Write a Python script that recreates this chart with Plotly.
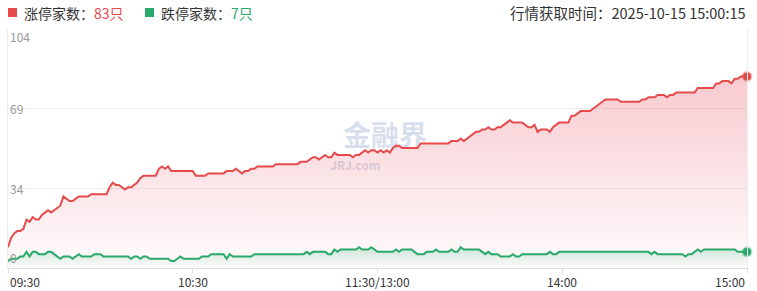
import plotly.graph_objects as go

# ---------------- data ----------------
time_ticks = [0, 60, 120, 180, 240]
time_labels = ["09:30", "10:30", "11:30/13:00", "14:00", "15:00"]
y_ticks = [0, 104 / 3, 208 / 3, 104]
y_labels = ["0", "34", "69", "104"]
quote_time = "2025-10-15 15:00:15"

limit_up = [
    9, 13, 15, 16, 16, 17, 21, 20, 22, 21,
    21, 23, 24, 25, 24, 25, 26, 27, 31, 30,
    29, 29, 30, 31, 31, 31, 31, 32, 32, 32,
    32, 32, 32, 35, 37, 36, 36, 35, 34, 35,
    35, 36, 37, 39, 40, 40, 40, 40, 40, 43,
    44, 43, 44, 42, 42, 42, 42, 42, 42, 42,
    42, 40, 40, 40, 40, 41, 41, 41, 41, 41,
    41, 42, 42, 42, 43, 42, 41, 42, 42, 43,
    43, 44, 44, 44, 44, 44, 44, 45, 45, 45,
    45, 45, 45, 45, 45, 46, 46, 46, 47, 48,
    48, 47, 48, 49, 48, 48, 50, 49, 49, 49,
    49, 49, 48, 49, 49, 50, 51, 50, 51, 51,
    50, 51, 50, 51, 50, 52, 53, 53, 52, 52,
    52, 52, 52, 52, 54, 54, 54, 54, 54, 54,
    54, 54, 54, 54, 55, 55, 55, 56, 55, 56,
    57, 58, 59, 59, 60, 60, 61, 60, 60, 61,
    61, 62, 63, 64, 63, 63, 63, 63, 62, 61,
    61, 62, 59, 60, 60, 60, 59, 61, 62, 63,
    63, 63, 63, 66, 66, 67, 68, 68, 68, 68,
    69, 70, 71, 72, 73, 73, 73, 73, 73, 72,
    72, 72, 72, 72, 72, 72, 73, 73, 74, 74,
    74, 75, 75, 75, 74, 75, 75, 76, 76, 76,
    76, 76, 76, 76, 78, 78, 78, 78, 78, 78,
    80, 80, 81, 81, 81, 80, 82, 82, 83, 83,
    83,
]

limit_down = [
    3, 4, 4, 4, 5, 5, 7, 5, 7, 7,
    6, 6, 6, 7, 7, 6, 5, 4, 5, 5,
    5, 4, 5, 6, 5, 5, 5, 5, 6, 6,
    6, 5, 5, 5, 5, 5, 5, 5, 5, 5,
    4, 5, 5, 4, 5, 5, 4, 4, 4, 4,
    4, 4, 4, 3, 3, 4, 5, 4, 4, 4,
    4, 4, 4, 5, 5, 5, 6, 6, 6, 6,
    6, 4, 6, 5, 5, 5, 5, 5, 5, 5,
    6, 6, 6, 6, 6, 6, 6, 6, 6, 6,
    6, 6, 6, 6, 6, 6, 6, 7, 6, 7,
    7, 7, 7, 7, 6, 6, 8, 7, 8, 8,
    8, 8, 8, 8, 9, 8, 8, 8, 9, 8,
    7, 7, 7, 7, 7, 7, 8, 7, 8, 8,
    8, 8, 7, 6, 6, 6, 7, 7, 7, 8,
    7, 7, 7, 7, 8, 7, 7, 9, 8, 8,
    8, 8, 8, 8, 7, 6, 7, 6, 6, 6,
    5, 5, 5, 5, 6, 5, 5, 6, 6, 6,
    6, 6, 6, 6, 6, 6, 7, 6, 6, 7,
    7, 7, 7, 7, 7, 7, 7, 7, 7, 7,
    7, 7, 7, 7, 7, 7, 7, 7, 7, 7,
    7, 7, 7, 7, 7, 7, 7, 7, 7, 6,
    7, 6, 6, 6, 6, 6, 6, 6, 6, 6,
    5, 6, 6, 7, 8, 7, 8, 8, 8, 8,
    8, 8, 8, 8, 8, 8, 8, 7, 7, 7,
    7,
]

minutes = list(range(len(limit_up)))

# ---------------- style ----------------
RED = "#e64a4a"
GREEN = "#29a96b"
FONT = "Noto Sans CJK SC, Microsoft YaHei, sans-serif"

fig = go.Figure()

fig.add_trace(go.Scatter(
    x=minutes, y=limit_up, mode="lines",
    line=dict(color=RED, width=2),
    fill="tozeroy",
    fillgradient=dict(type="vertical",
                      colorscale=[[0, "rgba(230,80,100,0.02)"],
                                  [1, "rgba(230,80,100,0.30)"]]),
    hoverinfo="skip",
))
fig.add_trace(go.Scatter(
    x=minutes, y=limit_down, mode="lines",
    line=dict(color=GREEN, width=2),
    fill="tozeroy",
    fillgradient=dict(type="vertical",
                      colorscale=[[0, "rgba(41,169,107,0.0)"],
                                  [1, "rgba(41,169,107,0.22)"]]),
    hoverinfo="skip",
))
# end-point dots
fig.add_trace(go.Scatter(
    x=[minutes[-1]], y=[limit_up[-1]], mode="markers",
    marker=dict(color=RED, size=8, line=dict(color="rgba(230,74,74,0.35)", width=3)),
    cliponaxis=False, hoverinfo="skip",
))
fig.add_trace(go.Scatter(
    x=[minutes[len(limit_down) - 1]], y=[limit_down[-1]], mode="markers",
    marker=dict(color=GREEN, size=8, line=dict(color="rgba(41,169,107,0.35)", width=3)),
    cliponaxis=False, hoverinfo="skip",
))

annotations = []
# x tick labels
for i, (v, lab) in enumerate(zip(time_ticks, time_labels)):
    anchor = "left" if i == 0 else ("right" if i == len(time_ticks) - 1 else "center")
    annotations.append(dict(
        x=v, xref="x", y=0, yref="paper", yanchor="top", xanchor=anchor,
        yshift=-3, text=lab, showarrow=False,
        font=dict(size=12, color="#333333", family=FONT),
    ))
# y tick labels (inside)
for i, (v, lab) in enumerate(zip(y_ticks, y_labels)):
    anchor = "bottom" if i == 0 else ("top" if i == len(y_ticks) - 1 else "middle")
    annotations.append(dict(
        x=0, xref="paper", y=v, yref="y", xanchor="left", yanchor=anchor,
        yshift=2 if i == len(y_ticks) - 1 else 0,
        text=lab, showarrow=False,
        font=dict(size=12, color="#999999", family=FONT),
    ))
# header
annotations.append(dict(
    x=0, xref="paper", xshift=14, y=1, yref="paper", yshift=15.5,
    xanchor="left", yanchor="middle", showarrow=False,
    text=f"涨停家数：<span style='color:{RED}'>{limit_up[-1]}只</span>",
    font=dict(size=14, color="#333333", family=FONT),
))
annotations.append(dict(
    x=0, xref="paper", xshift=151, y=1, yref="paper", yshift=15.5,
    xanchor="left", yanchor="middle", showarrow=False,
    text=f"跌停家数：<span style='color:{GREEN}'>{limit_down[-1]}只</span>",
    font=dict(size=14, color="#333333", family=FONT),
))
annotations.append(dict(
    x=1, xref="paper", xshift=1, y=1, yref="paper", yshift=15.5,
    xanchor="right", yanchor="middle", showarrow=False,
    text=f"行情获取时间：{quote_time}",
    font=dict(size=14.5, color="#333333", family=FONT),
))

shapes = [
    # legend squares
    dict(type="rect", xref="paper", xsizemode="pixel", xanchor=0, x0=0, x1=9,
         yref="paper", ysizemode="pixel", yanchor=1, y0=11, y1=20,
         fillcolor=RED, line=dict(width=0)),
    dict(type="rect", xref="paper", xsizemode="pixel", xanchor=0, x0=137, x1=146,
         yref="paper", ysizemode="pixel", yanchor=1, y0=11, y1=20,
         fillcolor=GREEN, line=dict(width=0)),
    # watermark
    dict(type="rect", xref="paper", yref="paper", x0=0.43, x1=0.59, y0=0.50, y1=0.58,
         line=dict(width=0), fillcolor="rgba(0,0,0,0)", layer="below",
         label=dict(text="<b>金融界</b>", textposition="middle center",
                    font=dict(size=28, color="rgba(180,195,222,0.55)", family=FONT))),
    dict(type="rect", xref="paper", yref="paper", x0=0.43, x1=0.51, y0=0.405, y1=0.445,
         line=dict(width=0), fillcolor="rgba(0,0,0,0)", layer="below",
         label=dict(text="<b>JRJ.com</b>", textposition="middle center",
                    font=dict(size=12, color="rgba(180,195,222,0.55)", family=FONT))),
]

fig.update_layout(
    width=757, height=291,
    margin=dict(l=8, r=10, t=28, b=23),
    paper_bgcolor="white", plot_bgcolor="white",
    showlegend=False,
    font=dict(family=FONT),
    xaxis=dict(range=[0, 240], tickvals=time_ticks, showticklabels=False,
               ticks="outside", ticklen=4, tickcolor="#dddddd",
               showgrid=False, showline=True, linecolor="#dddddd",
               zeroline=False, fixedrange=True),
    yaxis=dict(range=[0, 104], tickvals=y_ticks, showticklabels=False,
               showgrid=True, gridcolor="#eeeeee", showline=True, mirror=True,
               linecolor="#eeeeee", zeroline=False, ticks="", fixedrange=True),
    annotations=annotations,
    shapes=shapes,
)

fig.write_html("out.html")
